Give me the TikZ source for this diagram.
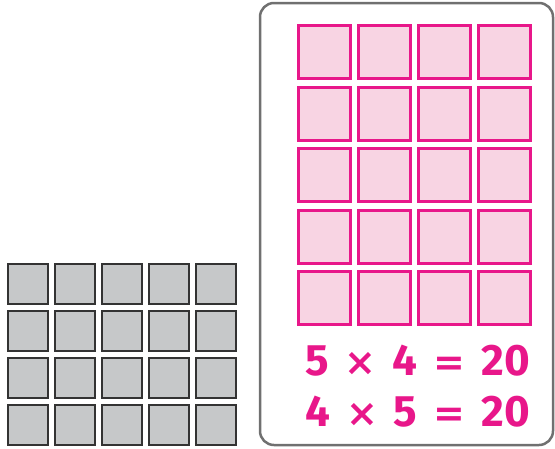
\documentclass[tikz,border=0pt]{standalone}
\usepackage{fontspec}
\setmainfont{Fira Sans}
\newfontfamily\symfont{DejaVu Sans}
\definecolor{pinkline}{HTML}{E8178A}
\definecolor{pinkfill}{HTML}{F8D4E3}
\definecolor{greyfill}{HTML}{C6C8C9}
\definecolor{greyline}{HTML}{333333}
\definecolor{boxline}{HTML}{707070}
\tikzset{
  greysq/.style={draw=greyline, fill=greyfill, line width=2pt, inner sep=0pt, minimum width=40pt, minimum height=40pt},
  pinksq/.style={draw=pinkline, fill=pinkfill, line width=3pt, inner sep=0pt, minimum width=52pt, minimum height=53pt},
  eqtext/.style={text=pinkline, font=\bfseries\fontsize{44}{44}\selectfont, inner sep=0pt, anchor=base west}
}
\newcommand{\gapA}{\hspace{16pt}}
\newcommand{\tms}{{\symfont\bfseries\fontsize{38}{38}\selectfont ×}}
\newcommand{\eqs}{{\symfont\bfseries\fontsize{38}{38}\selectfont =}}
\begin{document}
\begin{tikzpicture}[x=1pt,y=1pt]
\useasboundingbox (0,0) rectangle (555,-448);
\draw[boxline, line width=2.5pt, rounded corners=14pt] (260,-3) rectangle (553,-445);
\foreach \i in {0,...,4}{
  \foreach \j in {0,...,3}{
    \node[greysq] (g\i\j) at ({28+47*\i},{-(283.5+47*\j)}) {};
  }
}
\foreach \i in {0,...,3}{
  \foreach \j in {0,...,4}{
    \node[pinksq] (p\i\j) at ({324.5+60*\i},{-(52+61.5*\j)}) {};
  }
}
\node[eqtext] (eq1) at (305,-375) {5\gapA\tms\gapA 4\gapA\eqs\gapA 20};
\node[eqtext] (eq2) at (305,-426) {4\gapA\tms\gapA 5\gapA\eqs\gapA 20};
\end{tikzpicture}
\end{document}
